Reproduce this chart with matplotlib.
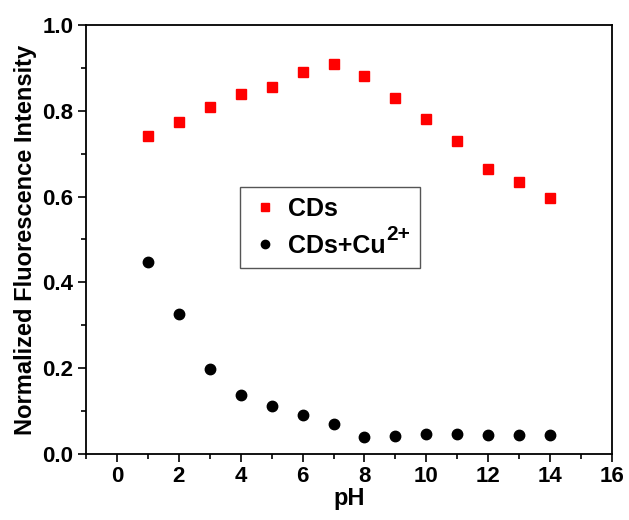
import matplotlib
matplotlib.use('Agg')
import matplotlib.pyplot as plt
from matplotlib.ticker import MultipleLocator
from matplotlib.patches import Rectangle

plt.rcParams['font.family'] = ['Liberation Sans', 'DejaVu Sans']
plt.rcParams['font.weight'] = 'bold'

# Datos
ph = [1, 2, 3, 4, 5, 6, 7, 8, 9, 10, 11, 12, 13, 14]
cds = [0.742, 0.775, 0.808, 0.838, 0.855, 0.890, 0.910, 0.880, 0.830, 0.780, 0.730, 0.665, 0.633, 0.596]
cds_cu = [0.447, 0.326, 0.197, 0.138, 0.113, 0.090, 0.070, 0.040, 0.043, 0.047, 0.046, 0.044, 0.044, 0.044]

fig = plt.figure(figsize=(6.29, 5.20), dpi=100)
ax = fig.add_axes([86/629, 1-454/520, 526/629, 429/520])

ax.plot(ph, cds, 's', color='#ff0000', markersize=6.5, label='CDs', linestyle='none')
ax.plot(ph, cds_cu, 'o', color='black', markersize=7.5, label='CDs+Cu', linestyle='none')

ax.set_xlim(-1, 16)
ax.set_ylim(0, 1.0)
ax.xaxis.set_major_locator(MultipleLocator(2))
ax.xaxis.set_minor_locator(MultipleLocator(1))
ax.yaxis.set_major_locator(MultipleLocator(0.2))
ax.yaxis.set_minor_locator(MultipleLocator(0.1))
ax.tick_params(which='major', direction='out', length=6, width=1.2, labelsize=16, pad=3)
ax.tick_params(which='minor', direction='out', length=3.5, width=1.2)
ax.tick_params(top=False, right=False)
for s in ax.spines.values():
    s.set_linewidth(1.3)

ax.set_xlabel('pH', fontsize=17, fontweight='bold', labelpad=0)
ax.set_ylabel('Normalized Fluorescence Intensity', fontsize=17, fontweight='bold', labelpad=4)

leg = ax.legend(loc='upper left', bbox_to_anchor=(0.293, 0.622), fontsize=18,
                frameon=False, handletextpad=0.3,
                borderpad=0.4, labelspacing=0.5, handlelength=1.2, markerscale=0.8,
                borderaxespad=0)

# superindice 2+ grande y marco de la leyenda dibujado a mano
fig.canvas.draw()
r = fig.canvas.get_renderer()
inv = ax.transAxes.inverted()
bb = leg.get_texts()[1].get_window_extent(renderer=r)
lb = leg.get_window_extent(renderer=r)
sx, sy = inv.transform((bb.x1 + 1, bb.y0 + 0.55 * bb.height))
sup = ax.text(sx, sy, '2+', fontsize=15, fontweight='bold', va='bottom', ha='left',
              transform=ax.transAxes, zorder=6)
fig.canvas.draw()
sb = sup.get_window_extent(renderer=r)
pad = 0.4 * 18 * 100 / 72
x0, y0 = inv.transform((lb.x0, lb.y0))
x1, y1 = inv.transform((sb.x1 + pad, lb.y1))
ax.add_patch(Rectangle((x0, y0), x1 - x0, y1 - y0, transform=ax.transAxes,
                       facecolor='white', edgecolor='#555555', linewidth=1.0, zorder=4.5))

plt.savefig('out.png', dpi=100)
